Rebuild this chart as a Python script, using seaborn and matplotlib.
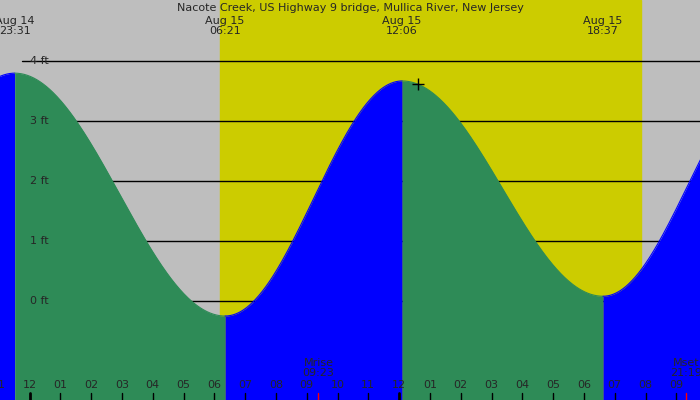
import numpy as np
import matplotlib
matplotlib.use("Agg")
import matplotlib.pyplot as plt
import seaborn as sns

title = "Nacote Creek, US Highway 9 bridge, Mullica River, New Jersey"
# tide extremes (hours from Aug 15 00:00, feet)
ext_t = [-6.8, -0.48, 6.35, 12.1, 18.62, 24.1]
ext_h = [0.0, 3.80, -0.25, 3.67, 0.08, 3.75]
day_start, day_end = 6.2, 19.85
top_labels = [("Aug 14\n23:31", -0.48), ("Aug 15\n06:21", 6.35), ("Aug 15\n12:06", 12.1), ("Aug 15\n18:37", 18.62)]
moon = [("Mrise\n09:23", 9.38), ("Mset\n21:19", 21.32)]
ft_levels = [0, 1, 2, 3, 4]
hours = list(range(-1, 22))
now_t, now_h = 12.6, 3.62

PX0, PXH = 29.5, 30.8
sns.set_theme(style="white")
plt.rcParams['font.family'] = ['DejaVu Sans']
fig = plt.figure(figsize=(7, 4), dpi=100)
ax = fig.add_axes([0, 0, 1, 1])
x0, x1 = -PX0/PXH, (700-PX0)/PXH
y0, y1 = -1.65, 5.02
ax.set_xlim(x0, x1); ax.set_ylim(y0, y1)
ax.set_facecolor("#bebebe")
ax.axvspan(day_start, day_end, color="#cccc00", zorder=0)
def px(h):
    return (PX0 + PXH*h) / 700
for l in ft_levels:
    ax.plot([x0 + 22/PXH, x1], [l, l], color="black", lw=1, zorder=1)
    ax.text(0.004, l, f"{l} ft", fontsize=8, va="center", ha="left", zorder=5)

for i in range(len(ext_t)-1):
    t = np.linspace(ext_t[i], ext_t[i+1], 200)
    f = (t - ext_t[i]) / (ext_t[i+1] - ext_t[i])
    h = ext_h[i] + (ext_h[i+1]-ext_h[i]) * (1 - np.cos(np.pi*f)) / 2
    col = "#0000ff" if ext_h[i+1] > ext_h[i] else "#2e8b57"
    ax.fill_between(t, y0, h, color=col, lw=0, zorder=2)
    sns.lineplot(x=t, y=h, color=col, lw=0.8, ax=ax, zorder=2)

ax.plot([now_t], [now_h], marker="+", color="black", ms=8, mew=1, zorder=3)

ax.text(0.5, 1-8/400, title, transform=ax.transAxes, ha="center", va="center", fontsize=8)
for lab, t in top_labels:
    ax.text(px(t), 1-26/400, lab, transform=ax.transAxes, ha="center", va="center", fontsize=8, linespacing=0.95)
for lab, t in moon:
    ax.text(px(t), 1-368/400, lab, transform=ax.transAxes, ha="center", va="center", fontsize=8, linespacing=0.95, zorder=5)
    ax.plot([t, t], [y0, y0+7/60], color="red", lw=1, zorder=4)
for h in hours:
    lab = f"{(h % 12) or 12:02d}"
    ax.text(px(h), 1-385/400, lab, transform=ax.transAxes, ha="center", va="center", fontsize=8, zorder=4)
    ax.plot([h, h], [y0, y0+7/60], color="black", lw=2 if h % 12 == 0 else 1, zorder=4)
ax.set_xticks([]); ax.set_yticks([])
for s in ax.spines.values():
    s.set_visible(False)
fig.savefig("out.png", dpi=100)
